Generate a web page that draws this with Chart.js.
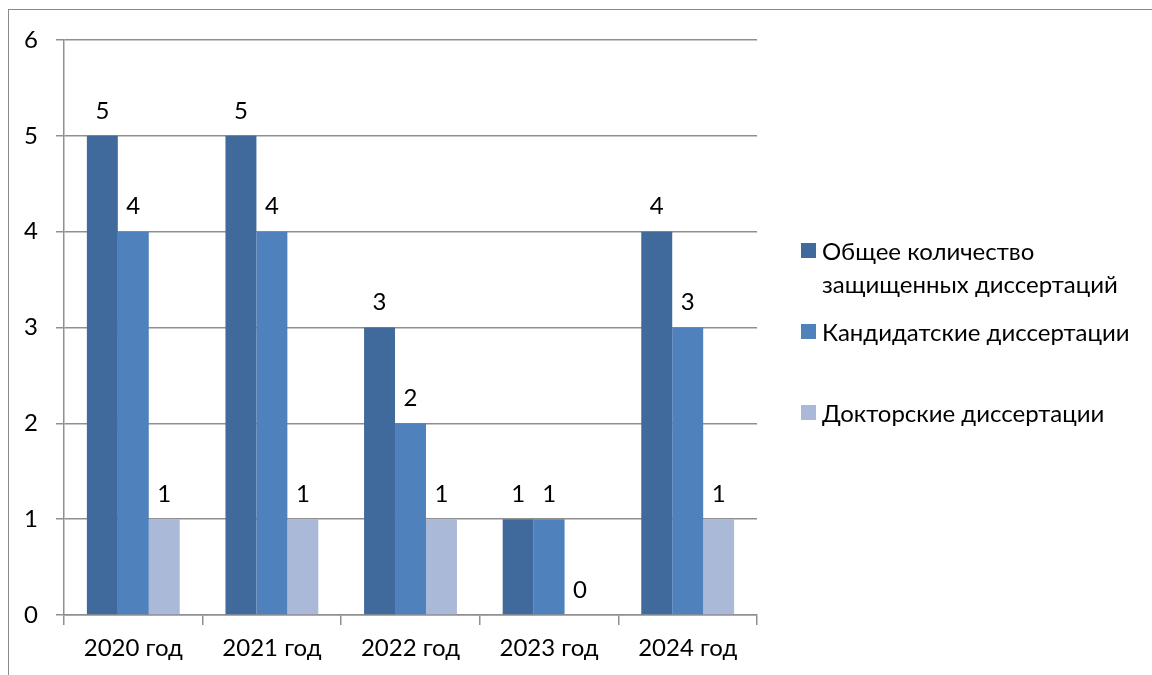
<!DOCTYPE html>
<html>
<head>
<meta charset="utf-8">
<script src="https://cdn.jsdelivr.net/npm/chart.js@4"></script>
<style>
  html, body { margin: 0; padding: 0; background: #fff; overflow: hidden; }
  #wrap { position: relative; width: 1152px; height: 675px; }
  #frame { position: absolute; left: 8px; top: 9px; width: 1300px; height: 800px; border: 1.5px solid #8a8a8a; }
  canvas { position: absolute; left: 0; top: 0; }
  .leg { position: absolute; left: 801px; font-family: Lato, sans-serif; font-size: 24px; color: #000; line-height: 33px; }
  .leg .sw { position: absolute; left: 0; width: 15px; height: 15px; }
  .leg .tx { position: absolute; left: 21px; width: 328px; white-space: normal; }
</style>
</head>
<body>
<div id="wrap">
  <div id="frame"></div>
  <canvas id="chart" width="1152" height="675"></canvas>
  <div id="legend"></div>
</div>
<script>
// Data
const years = ['2020 год', '2021 год', '2022 год', '2023 год', '2024 год'];
const totalDefended = [5, 5, 3, 1, 4];
const candidateTheses = [4, 4, 2, 1, 3];
const doctoralTheses = [1, 1, 1, 0, 1];
const seriesNames = ['Общее количество защищенных диссертаций', 'Кандидатские диссертации', 'Докторские диссертации'];
const yTicks = [0, 1, 2, 3, 4, 5, 6];

const colors = ['#416A9C', '#4F81BD', '#AAB9D8'];
const font = { family: 'Lato, sans-serif', size: 24 };
const gridColor = '#8f8f8f';

// value labels above bars
const valueLabels = {
  id: 'valueLabels',
  afterDatasetsDraw(chart) {
    const ctx = chart.ctx;
    ctx.save();
    ctx.font = font.size + 'px ' + font.family;
    ctx.fillStyle = '#000';
    ctx.textAlign = 'center';
    ctx.textBaseline = 'middle';
    chart.data.datasets.forEach((ds, i) => {
      chart.getDatasetMeta(i).data.forEach((bar, j) => {
        ctx.fillText(String(ds.data[j]), bar.x, bar.y - 25);
      });
    });
    ctx.restore();
  }
};

const chart = new Chart(document.getElementById('chart').getContext('2d'), {
  type: 'bar',
  data: {
    labels: years,
    datasets: [totalDefended, candidateTheses, doctoralTheses].map((d, i) => ({
      label: seriesNames[i],
      data: d,
      backgroundColor: colors[i],
      borderWidth: 0,
      categoryPercentage: 0.67,
      barPercentage: 1.0
    }))
  },
  options: {
    responsive: false,
    animation: false,
    layout: { padding: { left: 0, top: 40, right: 395, bottom: 0 } },
    plugins: { legend: { display: false }, tooltip: { enabled: false } },
    scales: {
      x: {
        grid: { drawOnChartArea: false, drawTicks: true, tickLength: 10, color: gridColor, lineWidth: 1.5 },
        border: { color: gridColor, width: 1.5 },
        ticks: { color: '#000', font: font, padding: 9, maxRotation: 0 },
        afterFit: s => { s.height = 60; }
      },
      y: {
        min: 0,
        max: 6,
        afterBuildTicks: s => { s.ticks = yTicks.map(v => ({ value: v })); },
        grid: { color: gridColor, lineWidth: 1.5, tickLength: 8 },
        border: { color: gridColor, width: 1.5 },
        ticks: { color: '#000', font: font, padding: 18 },
        afterFit: s => { s.width = 64; }
      }
    }
  },
  plugins: [valueLabels]
});

// legend
const legendTops = [250, 331, 412];
const legend = document.getElementById('legend');
seriesNames.forEach((name, i) => {
  const item = document.createElement('div');
  item.className = 'leg';
  item.style.top = (legendTops[i] - 16.5) + 'px';
  item.innerHTML = '<div class="sw" style="top:9px;background:' + colors[i] + '"></div><div class="tx">' + name + '</div>';
  legend.appendChild(item);
});
</script>
</body>
</html>
